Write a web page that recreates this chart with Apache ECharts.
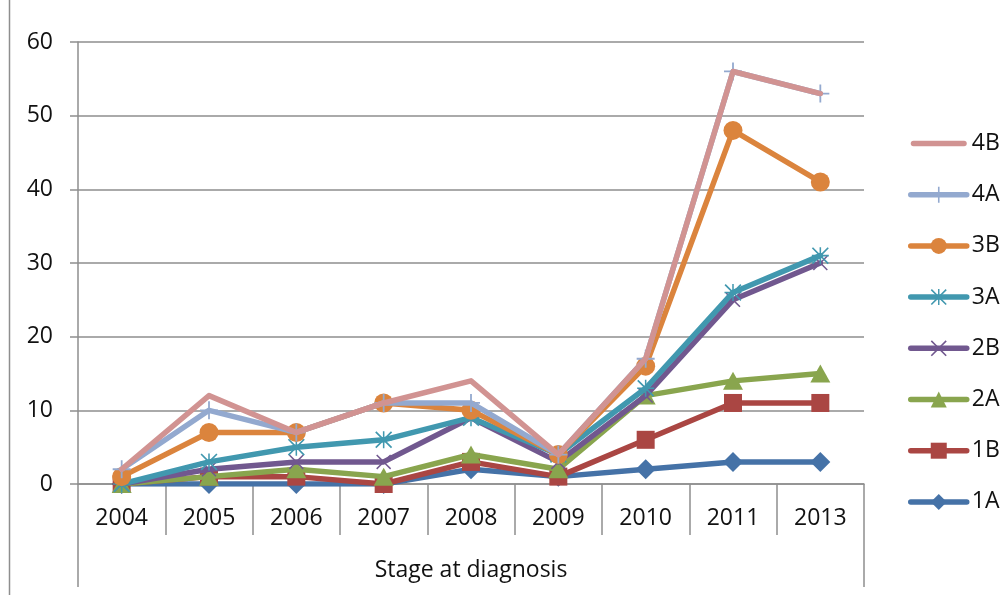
<!DOCTYPE html>
<html>
<head>
<meta charset="utf-8">
<script src="https://cdn.jsdelivr.net/npm/echarts@6/dist/echarts.min.js"></script>
<style>
html,body{margin:0;padding:0;background:#fff;}
#c{width:1004px;height:595px;}
</style>
</head>
<body>
<div id="c"></div>
<script>
const years = ['2004','2005','2006','2007','2008','2009','2010','2011','2013'];
const groupLabel = ['Stage at diagnosis'];
const yTicks = [0,10,20,30,40,50,60];
const s1A = [0,0,0,0,2,1,2,3,3];
const s1B = [0,1,1,0,3,1,6,11,11];
const s2A = [0,1,2,1,4,2,12,14,15];
const s2B = [0,2,3,3,9,3,12,25,30];
const s3A = [0,3,5,6,9,4,13,26,31];
const s3B = [1,7,7,11,10,4,16,48,41];
const s4A = [2,10,7,11,11,4,17,56,53];
const s4B = [2,12,7,11,14,4,17,56,53];
const seriesNames = ['1A','1B','2A','2B','3A','3B','4A','4B'];
const seriesData = [s1A,s1B,s2A,s2B,s3A,s3B,s4A,s4B];
const legendOrder = ['4B','4A','3B','3A','2B','2A','1B','1A'];
const colors = ['#4572A7','#AA4643','#89A54E','#71588F','#4198AF','#DB843D','#93A9CF','#D19392'];

const plusPath = 'path://M9,0H11V20H9Z M0,9H20V11H0Z';
const xPath = 'path://M1.4,0L10,8.6L18.6,0L20,1.4L11.4,10L20,18.6L18.6,20L10,11.4L1.4,20L0,18.6L8.6,10L0,1.4Z';
const starPath = 'path://M1.4,0L10,8.6L18.6,0L20,1.4L11.4,10L20,18.6L18.6,20L10,11.4L1.4,20L0,18.6L8.6,10L0,1.4Z M9.1,0H10.9V20H9.1Z M0,9.1H20V10.9H0Z';
const symbols = ['diamond','rect','triangle',xPath,starPath,'circle',plusPath,'circle'];
const symbolSizes = [20,18,[20,18],15,17,19,18,0];

const FONT = '"Open Sans", sans-serif';
const gridColor = '#8e8e8e';

const chart = echarts.init(document.getElementById('c'), null, {renderer:'canvas'});
chart.setOption({
  animation:false,
  backgroundColor:'#fff',
  textStyle:{fontFamily:FONT},
  grid:{left:78,right:140,top:42,bottom:111,containLabel:false},
  legend:{
    orient:'vertical',
    left:903, top:127,
    itemWidth:56, itemHeight:20, itemGap:28.2,
    lineStyle:{width:5.5,cap:'round'},
    data:legendOrder.map(n => n==='4B'
      ? {name:n, icon:'path://M2.75,0H53.25A2.75,2.75,0,0,1,53.25,5.5H2.75A2.75,2.75,0,0,1,2.75,0Z'}
      : {name:n}),
    textStyle:{fontFamily:FONT,fontSize:23,color:'#111',lineHeight:20,padding:[0,0,0,0]}
  },
  xAxis:[{
    type:'category', data:years, boundaryGap:true,
    axisLine:{show:true,lineStyle:{color:gridColor,width:1.5}},
    axisTick:{show:true,length:51,lineStyle:{color:gridColor,width:1.5}},
    axisLabel:{fontFamily:FONT,fontSize:23,color:'#111',margin:23}
  },{
    type:'category', data:groupLabel, position:'bottom', offset:51, boundaryGap:true,
    axisLine:{show:false},
    axisTick:{show:true,length:52,lineStyle:{color:gridColor,width:1.5}},
    axisLabel:{fontFamily:FONT,fontSize:23,color:'#111',margin:24}
  }],
  yAxis:{
    type:'value', min:yTicks[0], max:yTicks[yTicks.length-1], interval:10,
    axisLine:{show:true,lineStyle:{color:gridColor,width:1.5}},
    axisTick:{show:true,length:8,lineStyle:{color:gridColor,width:1.5}},
    splitLine:{show:true,lineStyle:{color:gridColor,width:1.5}},
    axisLabel:{fontFamily:FONT,fontSize:23,color:'#111',margin:25}
  },
  graphic:[{
    type:'line', shape:{x1:9.5,y1:0,x2:9.5,y2:595},
    style:{stroke:gridColor,lineWidth:1.5}
  }],
  series: seriesNames.map((n,i)=>({
    name:n, type:'line', xAxisIndex:0, data:seriesData[i],
    symbol:symbols[i], symbolSize:symbolSizes[i], showSymbol:n!=='4B',
    z:2+i,
    lineStyle:{color:colors[i],width:5.5,cap:'round',join:'round'},
    itemStyle:{color:colors[i],borderWidth:0},
    emphasis:{disabled:true}
  }))
});
</script>
</body>
</html>
